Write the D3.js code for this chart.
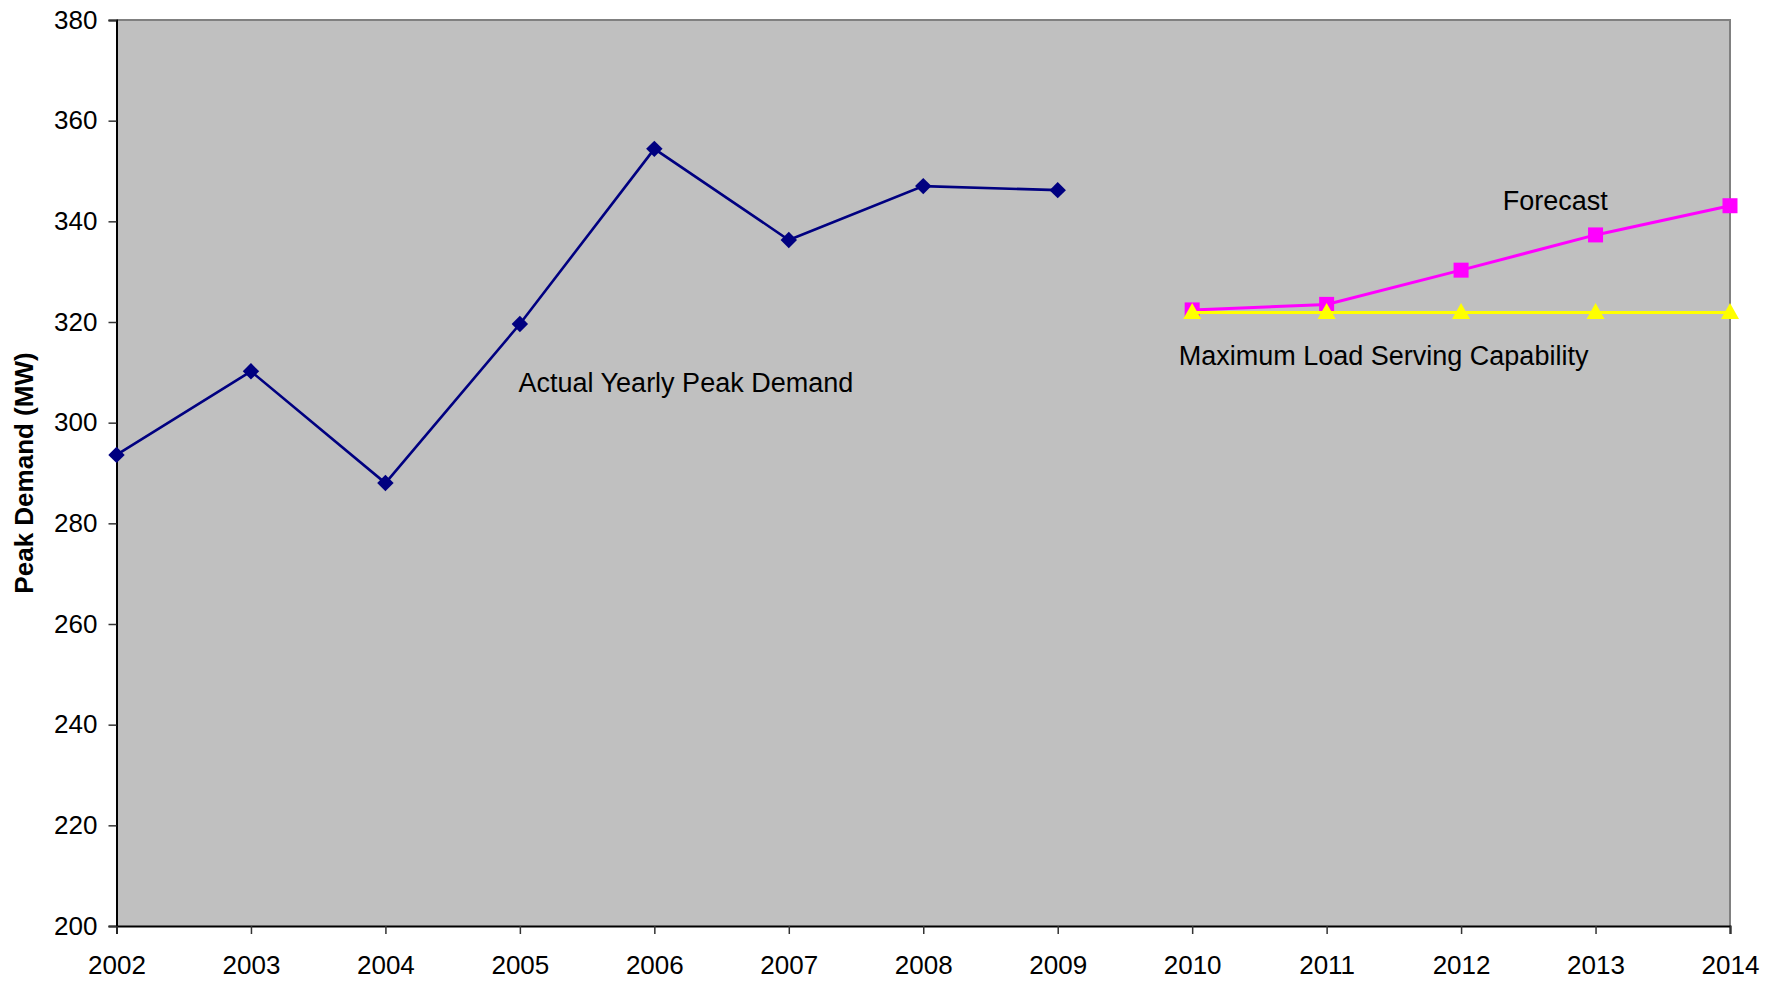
<!DOCTYPE html>
<html>
<head>
<meta charset="utf-8">
<script src="https://cdn.jsdelivr.net/npm/d3@7"></script>
<style>
html,body{margin:0;padding:0;background:#fff;}
svg{display:block;font-family:"Liberation Sans",Arial,sans-serif;}
</style>
</head>
<body>
<svg id="chart" width="1781" height="982"></svg>
<script>
const years = [2002,2003,2004,2005,2006,2007,2008,2009,2010,2011,2012,2013,2014];
const actualYears = [2002,2003,2004,2005,2006,2007,2008,2009];
const actualValues = [293.6,310.2,288.0,319.6,354.4,336.3,347.0,346.2];
const forecastYears = [2010,2011,2012,2013,2014];
const forecastValues = [322.4,323.5,330.3,337.3,343.1];
const maxLoadYears = [2010,2011,2012,2013,2014];
const maxLoadValues = [321.9,321.9,321.9,321.9,321.9];
const yTicks = [200,220,240,260,280,300,320,340,360,380];
const labels = [
  {text:"Actual Yearly Peak Demand", year:2004.99, value:306.1},
  {text:"Forecast", year:2012.31, value:342.3},
  {text:"Maximum Load Serving Capability", year:2009.90, value:311.5}
];

const svg = d3.select("#chart");
const m = {left:116.5, right:1730, top:20, bottom:926};
const x = d3.scaleLinear().domain([2002,2014]).range([m.left,m.right]);
const y = d3.scaleLinear().domain([200,380]).range([m.bottom,m.top]);

svg.append("rect").attr("x",m.left).attr("y",m.top)
  .attr("width",m.right-m.left).attr("height",m.bottom-m.top)
  .attr("fill","#C0C0C0");
svg.append("path").attr("d",`M${m.left},${m.top}H${m.right}V${m.bottom}`)
  .attr("fill","none").attr("stroke","#808080").attr("stroke-width",2);

const yAxis = d3.axisLeft(y).tickValues(yTicks).tickSize(8).tickPadding(11).tickFormat(d3.format("d"));
const gy = svg.append("g").attr("transform",`translate(${m.left},0)`).call(yAxis);
const xAxis = d3.axisBottom(x).tickValues(years).tickSize(8).tickPadding(22).tickFormat(d3.format("d"));
const gx = svg.append("g").attr("transform",`translate(0,${m.bottom})`).call(xAxis);
[gx,gy].forEach(g=>{
  g.select(".domain").attr("stroke","#000").attr("stroke-width",2);
  g.selectAll(".tick line").attr("stroke","#333").attr("stroke-width",1.5);
  g.selectAll(".tick text").attr("fill","#000").style("font-size","26px")
   .style("font-family",'"Liberation Sans",Arial,sans-serif');
});

svg.append("text").attr("transform",`translate(33,${(m.top+m.bottom)/2}) rotate(-90)`)
  .attr("text-anchor","middle").style("font-size","26px").style("font-weight","bold")
  .text("Peak Demand (MW)");

const line = d3.line().x(d=>x(d[0])).y(d=>y(d[1]));

const actual = actualYears.map((yr,i)=>[yr,actualValues[i]]);
svg.append("path").datum(actual).attr("d",line).attr("fill","none")
  .attr("stroke","#000080").attr("stroke-width",2.6);
svg.selectAll(".dia").data(actual).join("path").attr("class","dia")
  .attr("d",d3.symbol().type(d3.symbolSquare).size(135))
  .attr("transform",d=>`translate(${x(d[0])},${y(d[1])}) rotate(45)`)
  .attr("fill","#000080");

const fc = forecastYears.map((yr,i)=>[yr,forecastValues[i]]);
svg.append("path").datum(fc).attr("d",line).attr("fill","none")
  .attr("stroke","#FF00FF").attr("stroke-width",3);
svg.selectAll(".sq").data(fc).join("rect").attr("class","sq")
  .attr("x",d=>x(d[0])-7.5).attr("y",d=>y(d[1])-7.5)
  .attr("width",15).attr("height",15).attr("fill","#FF00FF");

const ml = maxLoadYears.map((yr,i)=>[yr,maxLoadValues[i]]);
svg.append("path").datum(ml).attr("d",line).attr("fill","none")
  .attr("stroke","#FFFF00").attr("stroke-width",3);
svg.selectAll(".tri").data(ml).join("path").attr("class","tri")
  .attr("d","M0,-9.5L9,6.5L-9,6.5Z")
  .attr("transform",d=>`translate(${x(d[0])},${y(d[1])})`)
  .attr("fill","#FFFF00");

svg.selectAll(".lbl").data(labels).join("text").attr("class","lbl")
  .attr("x",d=>x(d.year)).attr("y",d=>y(d.value))
  .style("font-size","27px").attr("fill","#000").text(d=>d.text);
</script>
</body>
</html>
